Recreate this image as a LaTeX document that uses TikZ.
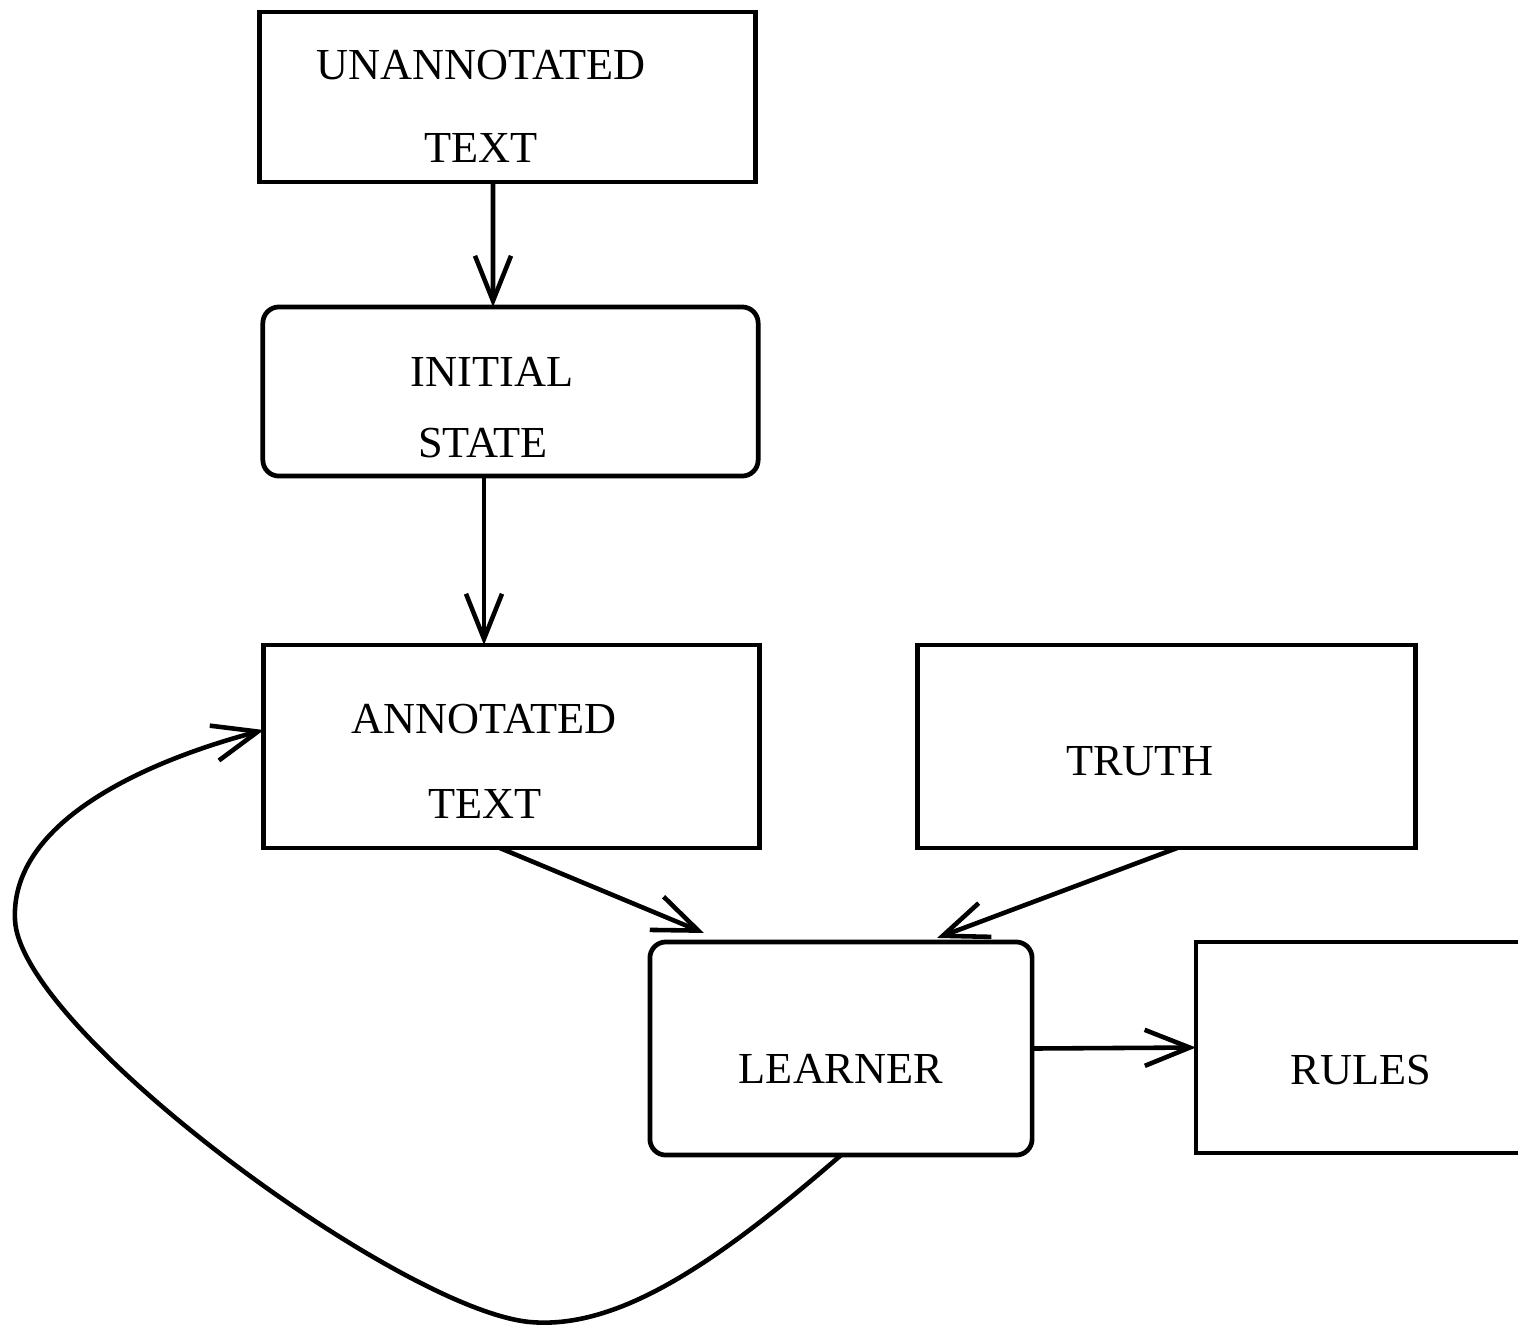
\documentclass[tikz,border=0pt]{standalone}
\usepackage{fontspec}
\setmainfont{Liberation Serif}
\usetikzlibrary{arrows.meta}
\begin{document}
\begin{tikzpicture}[x=0.01cm,y=-0.01cm,
 box/.style={draw, line width=1.35pt, inner sep=0pt, outer sep=0pt},
 rbox/.style={box, rounded corners=0.16cm},
 lbl/.style={font=\fontsize{12.6}{15}\selectfont, inner sep=0pt},
 arr/.style={line width=1.3pt, -{Straight Barb[length=4.5mm,width=3.6mm,line width=1.3pt]}}]
\useasboundingbox (0,0) rectangle (1518,1326);
\clip (0,0) rectangle (1518,1326);
% boxes
\node[box, minimum width=4.95cm, minimum height=1.70cm] (un) at (507.5,97) {};
\node[rbox, minimum width=4.95cm, minimum height=1.69cm] (init) at (510.5,391.5) {};
\node[box, minimum width=4.95cm, minimum height=2.03cm] (annot) at (511.5,746.5) {};
\node[box, minimum width=4.97cm, minimum height=2.03cm] (truth) at (1166.5,746.5) {};
\node[rbox, minimum width=3.82cm, minimum height=2.13cm] (learner) at (841,1048.5) {};
\node[box, minimum width=3.44cm, minimum height=2.11cm] (rules) at (1368,1047.5) {};
% labels
\node[lbl] (t1) at (481,65) {UNANNOTATED};
\node[lbl] (t2) at (481,148) {TEXT};
\node[lbl] (t3) at (492,372) {INITIAL};
\node[lbl] (t4) at (483,443) {STATE};
\node[lbl] (t5) at (484,719) {ANNOTATED};
\node[lbl] (t6) at (485,804) {TEXT};
\node[lbl] (t7) at (1140,761) {TRUTH};
\node[lbl] (t8) at (841,1069) {LEARNER};
\node[lbl] (t9) at (1361,1070) {RULES};
% connectors
\draw[arr] ([xshift=-0.145cm]un.south) -- ([xshift=-0.175cm]init.north);
\draw[arr] ([xshift=-0.265cm]init.south) -- ([xshift=-0.275cm]annot.north);
\draw[arr] ([xshift=-0.115cm]annot.south) -- ([xshift=-1.37cm,yshift=0.09cm]learner.north);
\draw[arr] ([xshift=0.105cm]truth.south) -- ([xshift=0.96cm,yshift=0.04cm]learner.north);
\draw[arr] (learner.east) -- (rules.west);
\draw[arr] (learner.south) .. controls (720,1260) and (620,1330) .. (530,1322)
  .. controls (400,1310) and (20,1030) .. (15,920)
  .. controls (10,820) and (150,760) .. ([yshift=0.165cm]annot.west);
\end{tikzpicture}
\end{document}
